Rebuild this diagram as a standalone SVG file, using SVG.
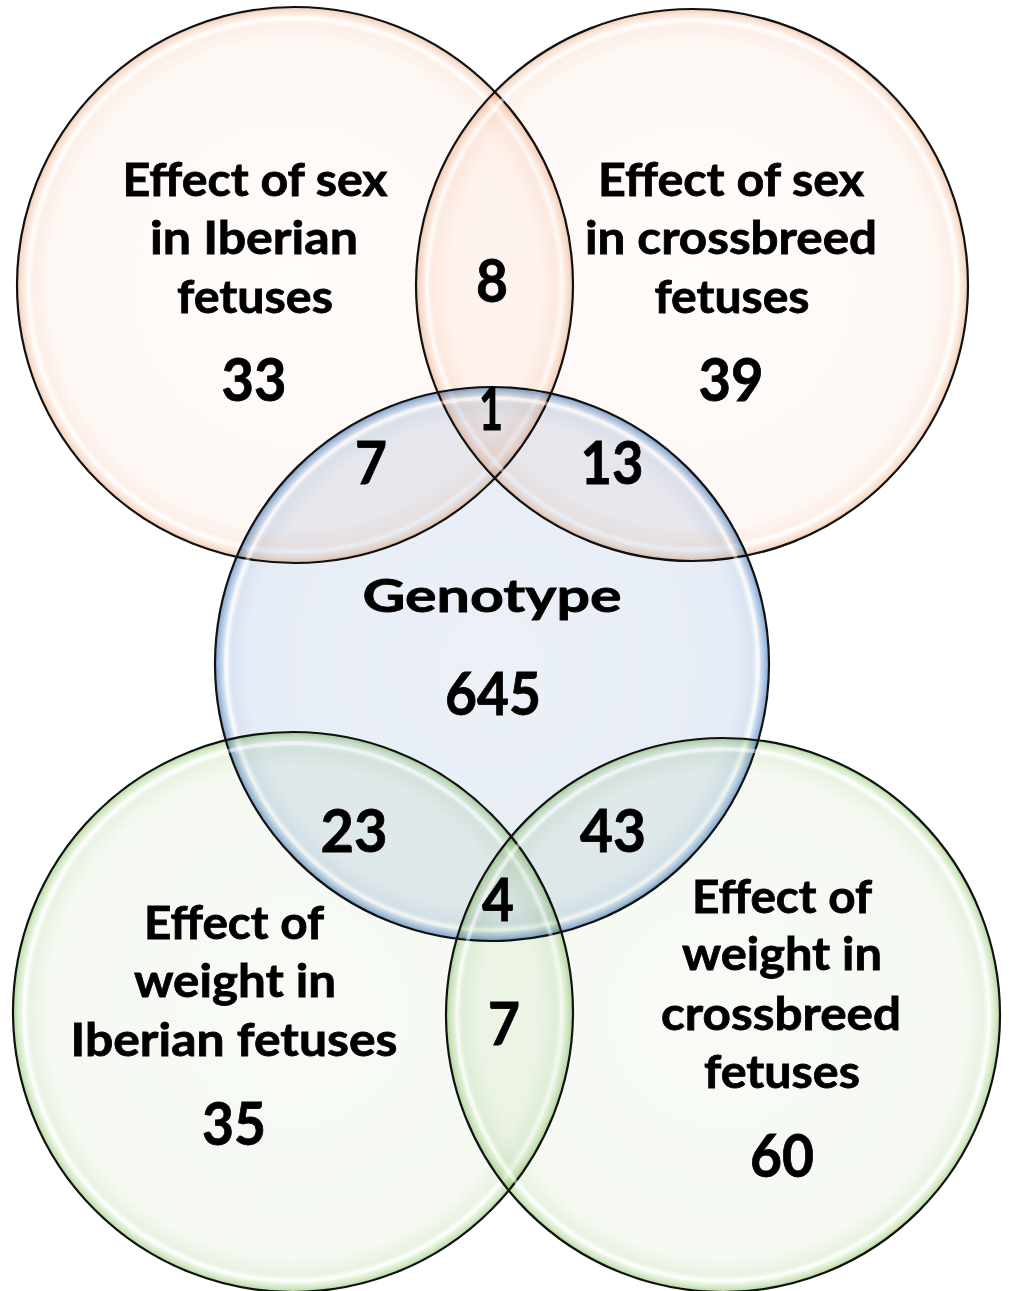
<svg xmlns="http://www.w3.org/2000/svg" width="1009" height="1291" viewBox="0 0 1009 1291">
<style>
.fill{mix-blend-mode:multiply}
.hl{fill:none;stroke:#ffffff;stroke-width:4;stroke-opacity:0.45}
.ol{fill:none;stroke:#111;stroke-width:2.2}
.lb{font-family:Lato,"Liberation Sans",sans-serif;font-weight:bold;font-size:46px;fill:#000;stroke:#000;stroke-width:0.8;text-anchor:middle}
.nm{font-family:Lato,"Liberation Sans",sans-serif;font-weight:bold;font-size:59px;fill:#000;stroke:#000;stroke-width:0.8;text-anchor:middle}
</style>
<defs>
<radialGradient id="gPeach">
<stop offset="0" stop-color="#fffcfa"/>
<stop offset="0.88" stop-color="#fef8f5"/>
<stop offset="0.94" stop-color="#fdefe7"/>
<stop offset="0.96" stop-color="#fffaf7"/>
<stop offset="0.985" stop-color="#f9e2d4"/>
<stop offset="1" stop-color="#f1cbb2"/>
</radialGradient>
<radialGradient id="gBlue">
<stop offset="0" stop-color="#ecf1f8"/>
<stop offset="0.88" stop-color="#e7edf6"/>
<stop offset="0.94" stop-color="#dae5f2"/>
<stop offset="0.96" stop-color="#f1f5fb"/>
<stop offset="0.985" stop-color="#abc4e3"/>
<stop offset="1" stop-color="#7fa5d2"/>
</radialGradient>
<radialGradient id="gGreen">
<stop offset="0" stop-color="#f8fbf6"/>
<stop offset="0.88" stop-color="#f5f9f2"/>
<stop offset="0.94" stop-color="#e9f3e2"/>
<stop offset="0.96" stop-color="#f9fcf7"/>
<stop offset="0.985" stop-color="#d4e9c6"/>
<stop offset="1" stop-color="#b5d79f"/>
</radialGradient>
</defs>
<g id="connectors"/>
<g id="sex-iberian">
<circle class="fill" cx="295" cy="285" r="278" fill="url(#gPeach)"/>
<circle class="hl" cx="295" cy="285" r="267"/>
<circle class="ol" cx="295" cy="285" r="278"/>
</g>
<g id="sex-crossbreed">
<circle class="fill" cx="692" cy="285" r="276" fill="url(#gPeach)"/>
<circle class="hl" cx="692" cy="285" r="265"/>
<circle class="ol" cx="692" cy="285" r="276"/>
</g>
<g id="genotype">
<circle class="fill" cx="492" cy="664" r="277" fill="url(#gBlue)"/>
<circle class="hl" cx="492" cy="664" r="266"/>
<circle class="ol" cx="492" cy="664" r="277"/>
</g>
<g id="weight-iberian">
<circle class="fill" cx="293" cy="1012" r="280" fill="url(#gGreen)"/>
<circle class="hl" cx="293" cy="1012" r="269"/>
<circle class="ol" cx="293" cy="1012" r="280"/>
</g>
<g id="weight-crossbreed">
<circle class="fill" cx="723" cy="1015" r="277" fill="url(#gGreen)"/>
<circle class="hl" cx="723" cy="1015" r="266"/>
<circle class="ol" cx="723" cy="1015" r="277"/>
</g>
<g id="labels">
<text class="lb" x="255" y="196" textLength="265" lengthAdjust="spacingAndGlyphs">Effect of sex</text>
<text class="lb" x="254" y="254" textLength="208" lengthAdjust="spacingAndGlyphs">in Iberian</text>
<text class="lb" x="255" y="313" textLength="156" lengthAdjust="spacingAndGlyphs">fetuses</text>
<text class="nm" x="254" y="401" textLength="65" lengthAdjust="spacingAndGlyphs">33</text>
<text class="lb" x="731" y="196" textLength="266" lengthAdjust="spacingAndGlyphs">Effect of sex</text>
<text class="lb" x="731" y="254" textLength="292" lengthAdjust="spacingAndGlyphs">in crossbreed</text>
<text class="lb" x="732" y="313" textLength="155" lengthAdjust="spacingAndGlyphs">fetuses</text>
<text class="nm" x="731" y="401" textLength="65" lengthAdjust="spacingAndGlyphs">39</text>
<text class="nm" x="492" y="302" textLength="32" lengthAdjust="spacingAndGlyphs">8</text>
<text class="nm" x="491" y="430" textLength="24" lengthAdjust="spacingAndGlyphs">1</text>
<text class="nm" x="371" y="484" textLength="32" lengthAdjust="spacingAndGlyphs">7</text>
<text class="nm" x="612" y="484" textLength="63" lengthAdjust="spacingAndGlyphs">13</text>
<text class="lb" x="492" y="612" textLength="259" lengthAdjust="spacingAndGlyphs">Genotype</text>
<text class="nm" x="493" y="715" textLength="96" lengthAdjust="spacingAndGlyphs">645</text>
<text class="nm" x="354" y="852" textLength="67" lengthAdjust="spacingAndGlyphs">23</text>
<text class="nm" x="613" y="852" textLength="66" lengthAdjust="spacingAndGlyphs">43</text>
<text class="nm" x="498" y="921" textLength="32" lengthAdjust="spacingAndGlyphs">4</text>
<text class="nm" x="504" y="1045" textLength="32" lengthAdjust="spacingAndGlyphs">7</text>
<text class="lb" x="234" y="939" textLength="180" lengthAdjust="spacingAndGlyphs">Effect of</text>
<text class="lb" x="235" y="997" textLength="202" lengthAdjust="spacingAndGlyphs">weight in</text>
<text class="lb" x="234" y="1056" textLength="327" lengthAdjust="spacingAndGlyphs">Iberian fetuses</text>
<text class="nm" x="234" y="1145" textLength="64" lengthAdjust="spacingAndGlyphs">35</text>
<text class="lb" x="782" y="913" textLength="180" lengthAdjust="spacingAndGlyphs">Effect of</text>
<text class="lb" x="782" y="970" textLength="200" lengthAdjust="spacingAndGlyphs">weight in</text>
<text class="lb" x="781" y="1030" textLength="240" lengthAdjust="spacingAndGlyphs">crossbreed</text>
<text class="lb" x="782" y="1088" textLength="156" lengthAdjust="spacingAndGlyphs">fetuses</text>
<text class="nm" x="782" y="1177" textLength="64" lengthAdjust="spacingAndGlyphs">60</text>
</g>
</svg>
